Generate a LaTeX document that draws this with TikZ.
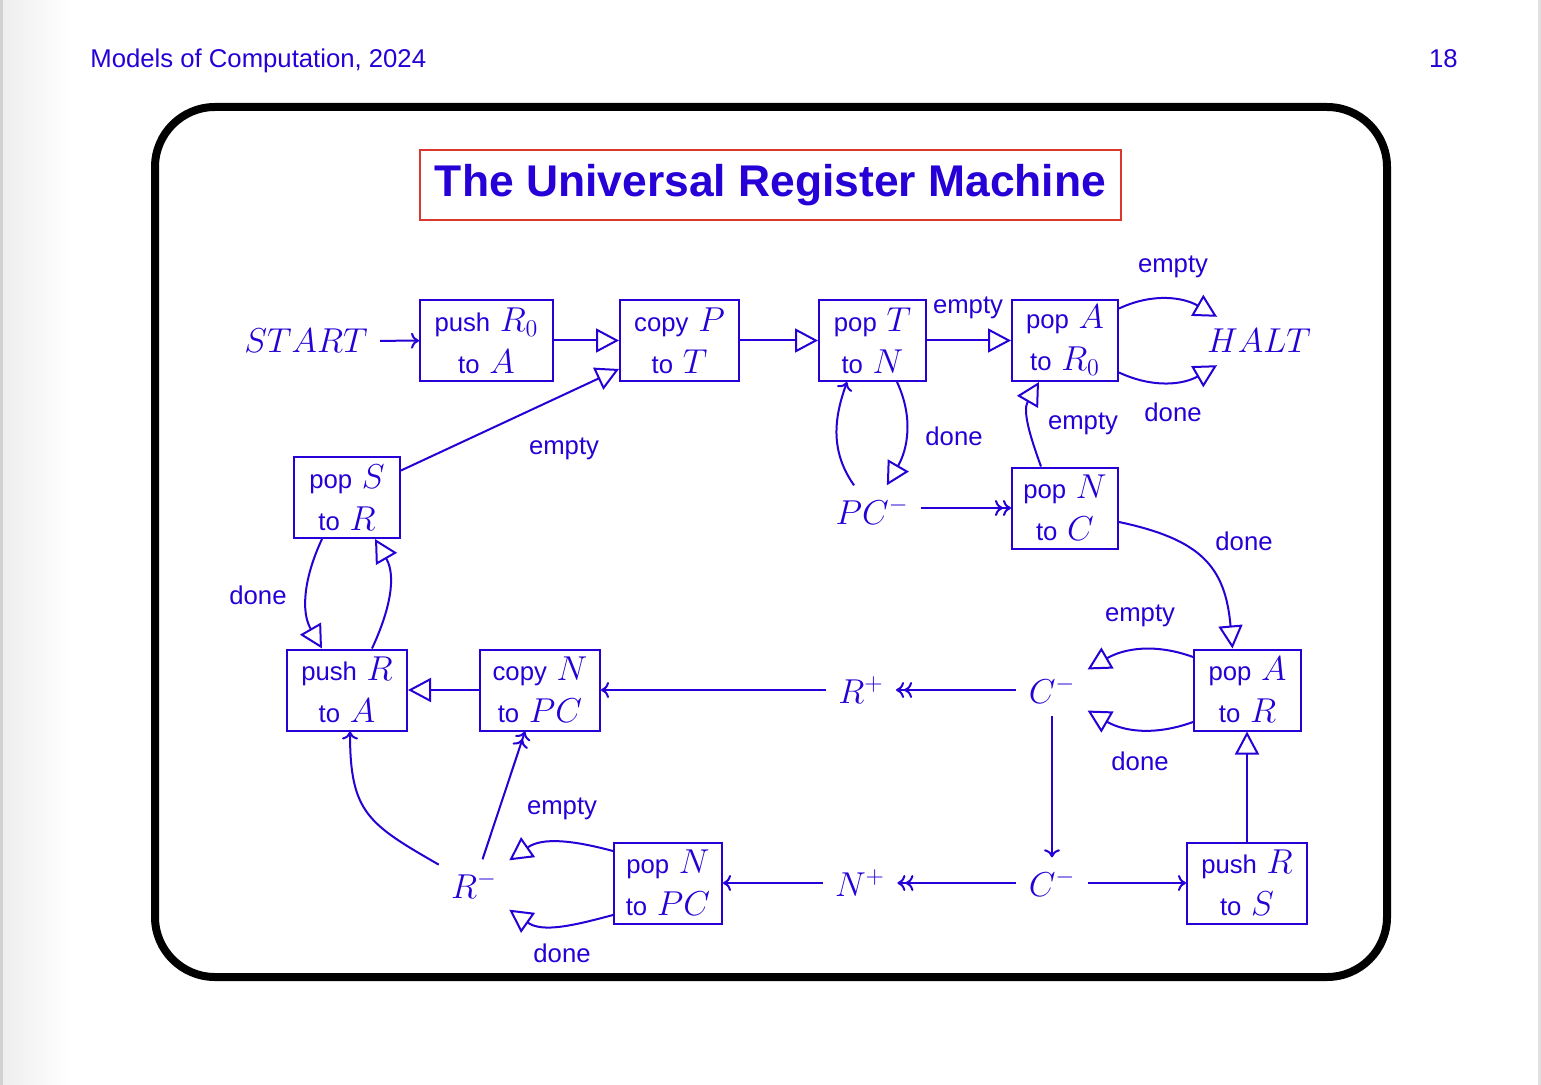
\documentclass[tikz,border=0pt]{standalone}
\usepackage[no-math]{fontspec}
\setmainfont{Liberation Sans}
\usetikzlibrary{arrows.meta,calc}
\definecolor{ink}{RGB}{38,0,215}
\definecolor{titlered}{RGB}{218,55,45}
\DeclareMathSizes{17.5}{17.5}{13}{10}
% words inside the boxes are set smaller than the math symbols
\newcommand\tw[1]{{\fontsize{12.85}{21}\selectfont #1}}

\begin{document}
\begin{tikzpicture}[x=0.5pt,y=0.5pt,
  every node/.style={text=ink},
  box/.style={draw=ink, line width=1pt, minimum height=40.5pt, inner sep=0pt,
    align=center, font=\fontsize{17.5}{21}\selectfont},
  sym/.style={inner sep=6pt, font=\fontsize{17.5}{21}\selectfont},
  lbl/.style={inner sep=0pt, font=\fontsize{12.85}{15}\selectfont},
  conn/.style={draw=ink, line width=1pt},
  tipS/.style={conn, -{Computer Modern Rightarrow[length=4pt,width=8pt]}},
  tipD/.style={conn, -{Computer Modern Rightarrow[length=4pt,width=8pt]Computer Modern Rightarrow[length=4pt,width=8pt]}},
  tipT/.style={conn, -{Triangle[open,length=11.5pt,width=12pt]}},
]
\useasboundingbox (0,0) rectangle (1541,-1085);
% page
\fill[white] (0,0) rectangle (1541,-1085);
\shade[left color=black!7, right color=white] (0,0) rectangle (70,-1085);
\fill[black!18] (0,0) rectangle (3,-1085);
\fill[black!12] (1538,0) rectangle (1541,-1085);

% header
\node[anchor=base west, inner sep=0pt, font=\fontsize{12.85}{15}\selectfont] (hdr) at (90,-68) {Models of Computation, 2024};
\node[anchor=base east, inner sep=0pt, font=\fontsize{12.85}{15}\selectfont] (pg) at (1458,-68) {18};

% slide frame
\draw[line width=4pt, rounded corners=30pt] (155,-107) rectangle (1387,-977);

% title
\node[draw=titlered, line width=0.75pt, minimum width=350.5pt, minimum height=35pt,
  inner sep=0pt, font=\fontsize{22.2}{26}\selectfont\bfseries] (title) at (770.5,-185)
  {The Universal Register Machine};

% instruction boxes
\node[box, minimum width=66.5pt] (pR0) at (486.5,-340.5) {\tw{push} $R_0$\\\tw{to} $A$};
\node[box, minimum width=59.5pt] (cP)  at (679.5,-340.5) {\tw{copy} $P$\\\tw{to} $T$};
\node[box, minimum width=53.5pt] (pT)  at (872.5,-340.5) {\tw{pop} $T$\\\tw{to} $N$};
\node[box, minimum width=53pt]   (pA0) at (1065,-340.5) {\tw{pop} $A$\\\tw{to} $R_0$};
\node[box, minimum width=53pt]   (pS)  at (347,-497.5) {\tw{pop} $S$\\\tw{to} $R$};
\node[box, minimum width=53pt]   (pNC) at (1065,-508) {\tw{pop} $N$\\\tw{to} $C$};
\node[box, minimum width=60pt]   (pRA) at (347,-690) {\tw{push} $R$\\\tw{to} $A$};
\node[box, minimum width=60pt]   (cN)  at (540,-690) {\tw{copy} $N$\\\tw{to} $PC$};
\node[box, minimum width=53.5pt] (pAR) at (1247.5,-690) {\tw{pop} $A$\\\tw{to} $R$};
\node[box, minimum width=54pt]   (pNP) at (668,-883) {\tw{pop} $N$\\\tw{to} $PC$};
\node[box, minimum width=60pt]   (pRS) at (1247,-883) {\tw{push} $R$\\\tw{to} $S$};

% symbolic states
\node[sym] (start) at (306,-341) {$START$};
\node[sym] (halt)  at (1259,-341) {$HALT$};
\node[sym] (pc)    at (872,-511) {$PC^-$};
\node[sym] (rp)    at (861,-690) {$R^+$};
\node[sym] (cu)    at (1052,-690) {$C^-$};
\node[sym] (np)    at (860,-883) {$N^+$};
\node[sym] (cl)    at (1052,-883) {$C^-$};
\node[sym] (rm)    at (474,-885) {$R^-$};

% edge labels
\node[lbl] (e1) at (968,-308) {empty};
\node[lbl] (e2) at (1173,-267) {empty};
\node[lbl] (d1) at (1173,-412) {done};
\node[lbl] (e3) at (1083,-424) {empty};
\node[lbl] (d2) at (954,-436) {done};
\node[lbl] (e4) at (564,-449) {empty};
\node[lbl] (d3) at (1244,-541) {done};
\node[lbl] (d4) at (258,-595) {done};
\node[lbl] (e5) at (1140,-616) {empty};
\node[lbl] (d5) at (1140,-761) {done};
\node[lbl] (e6) at (562,-809) {empty};
\node[lbl] (d6) at (562,-953) {done};

% top row
\draw[tipS] (start) -- (pR0);
\draw[tipT] (pR0) -- (cP);
\draw[tipT] (cP) -- (pT);
\draw[tipT] (pT) -- (pA0);
\draw[tipT] ($(pA0.east)+(0,32)$) to[out=25,in=150] (halt);
\draw[tipT] ($(pA0.east)+(0,-32)$) to[out=-25,in=-150] (halt);

% pop T loop through PC-
\draw[tipT] ($(pT.south)+(24.5,0)$) to[out=-65,in=60] (pc);
\draw[tipS] (pc) to[out=125,in=-110] ($(pT.south)+(-25.5,0)$);
\draw[tipD] (pc.east |- pNC) -- (pNC);
\draw[tipT] ($(pNC.north)+(-24,0)$) to[out=110,in=-120] ($(pA0.south)+(-26,0)$);
\draw[tipT] ($(pNC.east)+(0,-14)$) to[out=-12,in=95,looseness=1.25] ($(pAR.north)+(-15,0)$);

% right part
\draw[tipT] ($(pAR.west)+(0,33)$) to[out=160,in=30] (cu);
\draw[tipT] ($(pAR.west)+(0,-32)$) to[out=200,in=-30] (cu);
\draw[tipT] (pRS) -- (pRS |- pAR.south);
\draw[tipD] (cu) -- (rp);
\draw[tipS] (rp) -- (cN);
\draw[tipS] (cu) -- (cl);
\draw[tipD] (cl) -- (np);
\draw[tipS] (np) -- (pNP);
\draw[tipS] (cl) -- (pRS);

% left part
\draw[tipT] (cN) -- (pRA);
\draw[tipT] ($(pRA.north)+(25,0)$) to[out=65,in=-60] ($(pS.south)+(28,0)$);
\draw[tipT] ($(pS.south)+(-25,0)$) to[out=245,in=120] ($(pRA.north)+(-25,0)$);
\draw[tipT] ($(pS.east)+(0,27)$) -- ($(cP.west)+(0,-28.5)$);
\draw[tipS] (rm) to[out=150,in=-90,looseness=1.3] ($(pRA.south)+(3,0)$);
\draw[tipD] (rm) -- ($(cN.south)+(-15,0)$);
\draw[tipT] ($(pNP.west)+(0,32)$) to[out=165,in=35] (rm);
\draw[tipT] ($(pNP.west)+(0,-32)$) to[out=195,in=-35] (rm);
\end{tikzpicture}
\end{document}
